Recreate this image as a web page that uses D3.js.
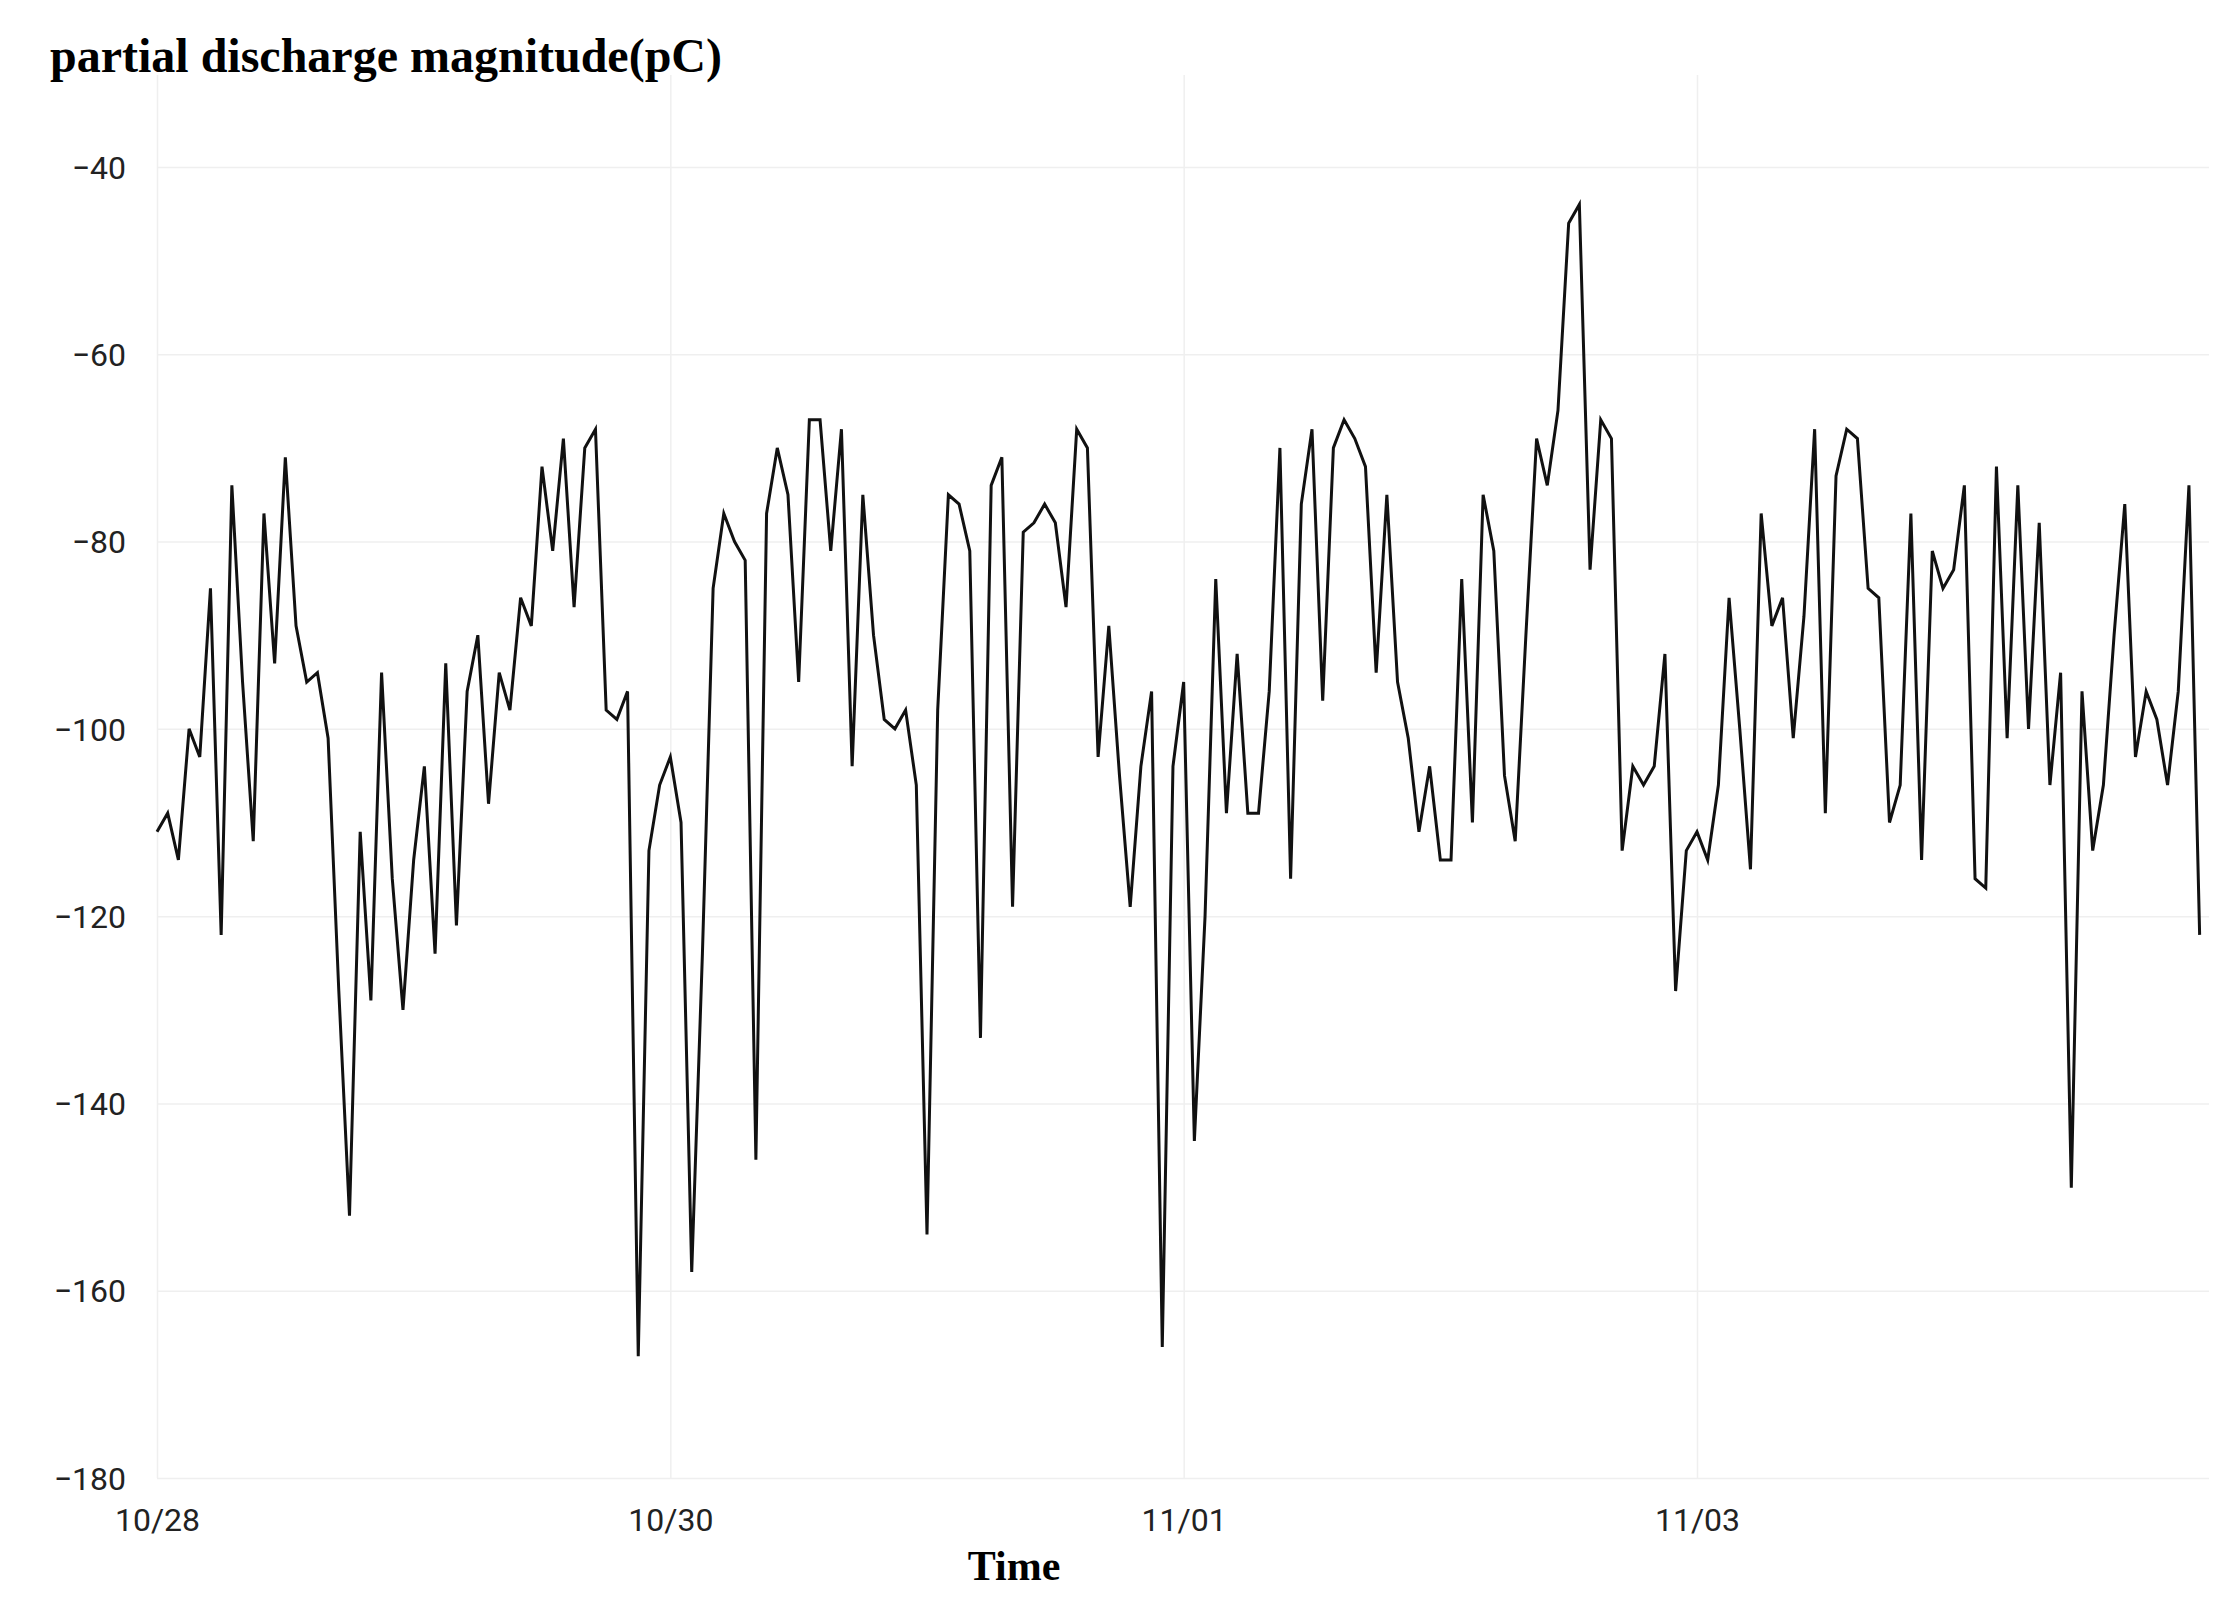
<!DOCTYPE html>
<html>
<head>
<meta charset="utf-8">
<script src="https://cdn.jsdelivr.net/npm/d3@7"></script>
<style>
body { margin: 0; background: #fff; }
.grid line { stroke: #efefef; stroke-width: 1.5; }
.grid path { display: none; }
.axis path, .axis line { display: none; }
.axis text { font-family: Roboto, sans-serif; font-size: 32px; fill: #222; }
</style>
</head>
<body>
<svg width="2239" height="1619"></svg>
<script>
// hourly readings starting 10/28 00:00
var startTime = new Date(2023, 9, 28, 0, 0);
var magnitude = [
-111,-109,-114,-100,-103,-85,-122,-74,-95,-112,-77,-93,-71,-89,-95,-94,-101,-128,-152,-111,
-129,-94,-116,-130,-114,-104,-124,-93,-121,-96,-90,-108,-94,-98,-86,-89,-72,-81,-69,-87,
-70,-68,-98,-99,-96,-167,-113,-106,-103,-110,-158,-124,-85,-77,-80,-82,-146,-77,-70,-75,
-95,-67,-67,-81,-68,-104,-75,-90,-99,-100,-98,-106,-154,-98,-75,-76,-81,-133,-74,-71,
-119,-79,-78,-76,-78,-87,-68,-70,-103,-89,-105,-119,-104,-96,-166,-104,-95,-144,-120,-84,
-109,-92,-109,-109,-96,-70,-116,-76,-68,-97,-70,-67,-69,-72,-94,-75,-95,-101,-111,-104,
-114,-114,-84,-110,-75,-81,-105,-112,-90,-69,-74,-66,-46,-44,-83,-67,-69,-113,-104,-106,
-104,-92,-128,-113,-111,-114,-106,-86,-100,-115,-77,-89,-86,-101,-88,-68,-109,-73,-68,-69,
-85,-86,-110,-106,-77,-114,-81,-85,-83,-74,-116,-117,-72,-101,-74,-100,-78,-106,-94,-149,
-96,-113,-106,-90,-76,-103,-96,-99,-106,-96,-74,-122
];
var yTicks = [-40, -60, -80, -100, -120, -140, -160, -180];
var xTickDates = ["10/28", "10/30", "11/01", "11/03"];

var svg = d3.select("svg"),
margin = {top: 75, right: 30, bottom: 141, left: 157},
width = +svg.attr("width") - margin.left - margin.right,
height = +svg.attr("height") - margin.top - margin.bottom;

var data = magnitude.map(function(v, i) {
  return {time: d3.timeHour.offset(startTime, i), value: v};
});

var x = d3.scaleTime()
  .domain([startTime, d3.timeDay.offset(startTime, 6)])
  .range([0, 1540]);
var y = d3.scaleLinear().domain([-180, -40]).range([height, 92]);

var tickTimes = xTickDates.map(function(s) {
  var p = s.split("/");
  return new Date(2023, +p[0] - 1, +p[1], 0, 0);
});

var g = svg.append("g")
  .attr("transform", "translate(" + margin.left + "," + margin.top + ")");

// grid
g.append("g").attr("class", "grid")
  .call(d3.axisLeft(y).tickValues(yTicks).tickSize(-width).tickFormat(""));
g.append("g").attr("class", "grid")
  .call(d3.axisBottom(x).tickValues(tickTimes).tickSize(height).tickFormat(""));

// axes
g.append("g").attr("class", "axis")
  .call(d3.axisLeft(y).tickValues(yTicks).tickPadding(25).tickFormat(function(d) { return "\u2212" + Math.abs(d); }))
  .selectAll("text").attr("dy", "0.35em");
g.append("g").attr("class", "axis")
  .attr("transform", "translate(0," + height + ")")
  .call(d3.axisBottom(x).tickValues(tickTimes).tickPadding(24).tickFormat(function(d, i) { return xTickDates[i]; }));

var line = d3.line()
  .x(function(d) { return x(d.time); })
  .y(function(d) { return y(d.value); });

g.append("path")
  .datum(data)
  .attr("fill", "none")
  .attr("stroke", "#111")
  .attr("stroke-width", 3)
  .attr("d", line);

// titles
svg.append("text")
  .attr("x", 50).attr("y", 72)
  .style("font-family", "Liberation Serif, serif")
  .style("font-weight", "bold")
  .style("font-size", "48px")
  .text("partial discharge magnitude(pC)");
svg.append("text")
  .attr("x", 1014).attr("y", 1580)
  .attr("text-anchor", "middle")
  .style("font-family", "Liberation Serif, serif")
  .style("font-weight", "bold")
  .style("font-size", "42px")
  .text("Time");
</script>
</body>
</html>
